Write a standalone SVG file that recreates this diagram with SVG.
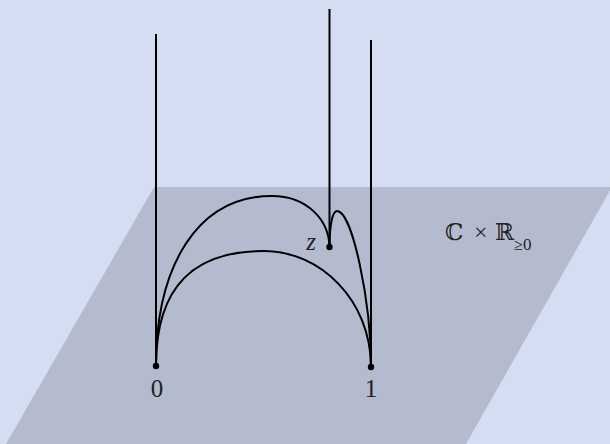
<svg xmlns="http://www.w3.org/2000/svg" width="610" height="444" viewBox="0 0 610 444">
  <style>
    .edge { fill: none; stroke: #000; stroke-width: 2; stroke-linecap: butt; }
    .dot { fill: #000; }
    .lbl { font-family: "Liberation Serif", "DejaVu Serif", serif; fill: #222; }
    .it { font-style: italic; }
  </style>
  <rect x="0" y="0" width="610" height="444" fill="#d5ddf2"/>
  <g id="plane">
    <polygon points="154,187 612,187 466,444 6,444" fill="#b5bbcf"/>
    <text class="lbl" y="240" font-size="23"><tspan x="445">ℂ</tspan><tspan x="474" font-size="24">×</tspan><tspan x="495">ℝ</tspan><tspan x="514" y="250" font-size="16">≥</tspan><tspan x="523" y="250" font-size="17">0</tspan></text>
  </g>
  <g id="connectors">
    <line class="edge" x1="156" y1="34" x2="156" y2="366"/>
    <line class="edge" x1="329.5" y1="9" x2="329.5" y2="247"/>
    <line class="edge" x1="371" y1="40" x2="371" y2="367"/>
    <path class="edge" d="M156,366 C156,265 198,196 272,196 C307,196 329,220 329.5,247"/>
    <path class="edge" d="M329.5,247 C329.5,228 332,211 337,211 C352,211 371,300 371,367"/>
    <path class="edge" d="M156,366 C156,285 195,251 264,251 C320,251 371,300 371,367"/>
  </g>
  <g id="node-0">
    <circle class="dot" cx="156" cy="366" r="3.2"/>
    <text class="lbl" x="157" y="397" font-size="25" text-anchor="middle">0</text>
  </g>
  <g id="node-1">
    <circle class="dot" cx="371" cy="367" r="3.2"/>
    <text class="lbl" x="371" y="397" font-size="25" text-anchor="middle">1</text>
  </g>
  <g id="node-z">
    <circle class="dot" cx="329.5" cy="247" r="3.2"/>
    <text class="lbl it" x="316" y="250" font-size="25" text-anchor="end">z</text>
  </g>
</svg>
